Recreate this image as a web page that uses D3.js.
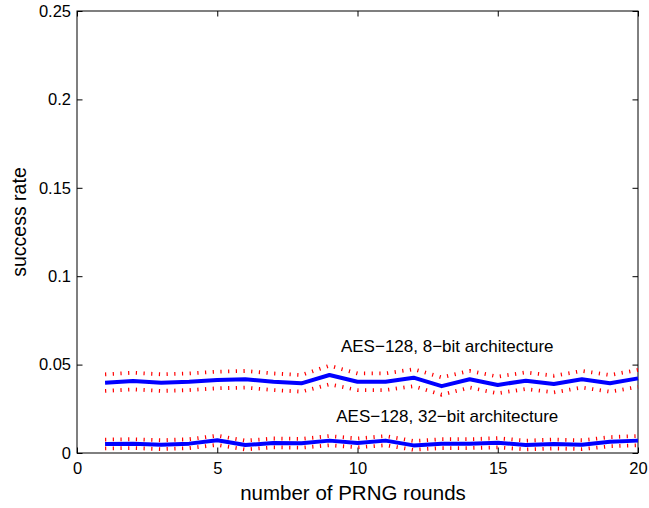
<!DOCTYPE html>
<html>
<head>
<meta charset="utf-8">
<script src="https://cdn.jsdelivr.net/npm/d3@7"></script>
<style>
    body { margin: 0; background: #fff; }
    text { font-family: "Liberation Sans", Arial, sans-serif; fill: #000; }
</style>
</head>
<body>
<svg id="chart"></svg>
<script>
// PRNG rounds 1..20
var rounds = d3.range(1, 21);

// AES-128, 8-bit architecture
var rate8 = [0.0398, 0.0407, 0.0398, 0.0403, 0.0413, 0.0417, 0.0403, 0.0394, 0.0441, 0.0403,
    0.0403, 0.0426, 0.0378, 0.0417, 0.0385, 0.0409, 0.0390, 0.0417, 0.0394, 0.0422];
var upper8 = [0.0445, 0.0454, 0.0445, 0.0450, 0.0460, 0.0464, 0.0450, 0.0441, 0.0494, 0.0450,
    0.0450, 0.0474, 0.0428, 0.0464, 0.0432, 0.0456, 0.0437, 0.0464, 0.0441, 0.0470];
var lower8 = [0.0351, 0.0360, 0.0351, 0.0356, 0.0366, 0.0370, 0.0356, 0.0347, 0.0388, 0.0356,
    0.0356, 0.0378, 0.0330, 0.0370, 0.0338, 0.0362, 0.0343, 0.0370, 0.0347, 0.0374];

// AES-128, 32-bit architecture
var rate32 = [0.0051, 0.0053, 0.0047, 0.0053, 0.0072, 0.0045, 0.0057, 0.0055, 0.0070, 0.0057,
    0.0070, 0.0043, 0.0053, 0.0053, 0.0058, 0.0045, 0.0051, 0.0047, 0.0064, 0.0070];
var upper32 = [0.0076, 0.0078, 0.0072, 0.0078, 0.0098, 0.0070, 0.0082, 0.0080, 0.0096, 0.0082,
    0.0096, 0.0068, 0.0078, 0.0078, 0.0084, 0.0070, 0.0076, 0.0072, 0.0090, 0.0096];
var lower32 = [0.0026, 0.0028, 0.0022, 0.0028, 0.0046, 0.0020, 0.0032, 0.0030, 0.0044, 0.0032,
    0.0044, 0.0018, 0.0028, 0.0028, 0.0032, 0.0020, 0.0026, 0.0022, 0.0038, 0.0044];

var xTicks = [0, 5, 10, 15, 20];
var yTicks = [0, 0.05, 0.1, 0.15, 0.2, 0.25];
var yTickLabels = ["0", "0.05", "0.1", "0.15", "0.2", "0.25"];

var labels = [
    {text: "AES\u2212128, 8\u2212bit architecture", x: 13.2, y: 0.0573},
    {text: "AES\u2212128, 32\u2212bit architecture", x: 13.2, y: 0.0177}
];

var width = 649, height = 508;
var margin = {top: 11, right: 11, bottom: 55, left: 77};
var w = width - margin.left - margin.right;
var h = height - margin.top - margin.bottom;

var svg = d3.select("#chart")
    .attr("width", width)
    .attr("height", height);

var g = svg.append("g")
    .attr("transform", "translate(" + margin.left + "," + margin.top + ")");

var x = d3.scaleLinear().domain([0, 20]).range([0, w]);
var y = d3.scaleLinear().domain([0, 0.25]).range([h, 0]);

var tickLen = 5.5;

// box
g.append("rect")
    .attr("width", w)
    .attr("height", h)
    .attr("fill", "none")
    .attr("stroke", "#000")
    .attr("stroke-width", 1);

// axes, ticks drawn inward like matlab
var xAxis = d3.axisBottom(x).tickValues(xTicks).tickSizeInner(-tickLen).tickSizeOuter(0).tickPadding(9.5)
    .tickFormat(d3.format("d"));
var yAxis = d3.axisLeft(y).tickValues(yTicks).tickSizeInner(-tickLen).tickSizeOuter(0).tickPadding(6)
    .tickFormat(function (d, i) { return yTickLabels[i]; });

var gx = g.append("g").attr("transform", "translate(0," + h + ")").call(xAxis);
var gy = g.append("g").call(yAxis);
g.append("g").call(d3.axisTop(x).tickValues(xTicks).tickSizeInner(-tickLen).tickSizeOuter(0).tickFormat(""));
g.append("g").attr("transform", "translate(" + w + ",0)")
    .call(d3.axisRight(y).tickValues(yTicks).tickSizeInner(-tickLen).tickSizeOuter(0).tickFormat(""));

g.selectAll(".domain").remove();
g.selectAll(".tick line").attr("stroke", "#000");
g.selectAll(".tick text")
    .style("font-family", "'Liberation Sans', Arial, sans-serif")
    .style("font-size", "16.5px")
    .attr("fill", "#000");

var line = d3.line()
    .x(function (d, i) { return x(rounds[i]); })
    .y(function (d) { return y(d); });

// confidence bounds (red dotted)
[upper8, lower8, upper32, lower32].forEach(function (s) {
    g.append("path")
        .datum(s)
        .attr("d", line)
        .attr("fill", "none")
        .attr("stroke", "#ff0000")
        .attr("stroke-width", 3.8)
        .attr("stroke-dasharray", "1.2,6.5");
});

// mean success rates (blue)
[rate8, rate32].forEach(function (s) {
    g.append("path")
        .datum(s)
        .attr("d", line)
        .attr("fill", "none")
        .attr("stroke", "#0000ff")
        .attr("stroke-width", 4)
        .attr("stroke-linejoin", "round");
});

g.selectAll(".annot")
    .data(labels)
    .enter()
    .append("text")
    .attr("class", "annot")
    .attr("x", function (d) { return x(d.x); })
    .attr("y", function (d) { return y(d.y); })
    .attr("text-anchor", "middle")
    .style("font-size", "17px")
    .text(function (d) { return d.text; });

// axis titles
svg.append("text")
    .attr("x", 353)
    .attr("y", 500)
    .attr("text-anchor", "middle")
    .style("font-size", "20.5px")
    .text("number of PRNG rounds");

svg.append("text")
    .attr("transform", "translate(26,222) rotate(-90)")
    .attr("text-anchor", "middle")
    .style("font-size", "19.5px")
    .text("success rate");
</script>
</body>
</html>
